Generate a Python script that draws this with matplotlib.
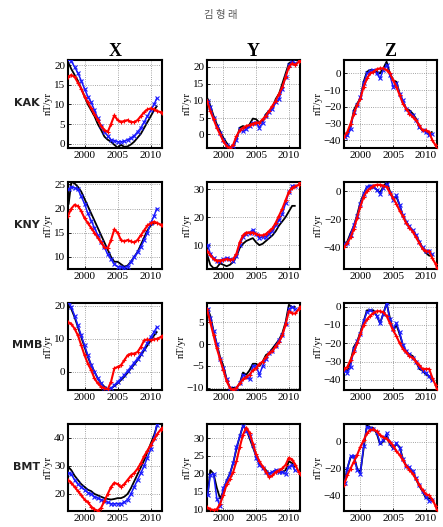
import numpy as np
import matplotlib
matplotlib.use("Agg")
import matplotlib.pyplot as plt

# time axes (decimal years)
years_obs = [1997.6] + list(np.arange(1998.0, 2010.51, 0.5)) + [2010.9]
years_mod = list(np.arange(1997.5, 2011.51, 0.5)) + [2011.7]

stations = ["KAK", "KNY", "MMB", "BMT"]
components = ["X", "Y", "Z"]

# KAK
kak_x_black = [20.5, 19, 17.5, 16, 14, 12, 10, 8.5, 7, 5, 3.5, 1.8, 1, 0.5, -0.3, -1, -0.3, -0.8, -0.7, -0.2, 0.5, 1.5, 2.5, 4, 5.5, 7, 8.5, 9.5]
kak_x_blue = [21.5, 21, 19.5, 18, 16, 14, 12, 10.5, 8.5, 6.5, 4.5, 3, 2, 1, 0.8, 0.5, 0.5, 0.6, 1, 1.5, 2, 3, 4, 5.5, 7, 8.5, 10, 11.5]
kak_x_red = [17, 17.5, 17, 15.5, 14, 12, 10.5, 9, 7.5, 6, 4.5, 3.5, 3, 5, 7.2, 6, 5.5, 5.8, 6, 5.5, 5.5, 6, 7, 8, 8.7, 9, 8.7, 8.3, 8, 7.8]
kak_y_black = [10.5, 8.5, 5.5, 3, 1, -1, -2.5, -3.8, -3.5, -1.5, 2, 2.5, 2, 3, 4.7, 4.5, 3.5, 4, 6, 7, 8, 10.5, 12, 15, 18, 21, 21.5, 21]
kak_y_blue = [10, 8, 5, 2.5, 0.5, -1.5, -3, -4, -3.5, -1.5, 1.5, 1, 1.5, 2.5, 3.5, 3.5, 2, 3.5, 5.5, 6.5, 7.5, 9.5, 10.5, 13.5, 17, 20.5, 21.5, 21]
kak_y_red = [10, 7, 4.5, 2, 0, -2, -3.5, -4, -3, -0.5, 1.2, 2, 2.5, 2.8, 3.2, 3.5, 3.5, 4.5, 5.5, 7, 8.5, 10, 12, 14, 17, 20, 21, 20.5, 21.5, 22]
kak_z_black = [-37, -37, -32, -22, -18, -15, -5, 1, 2, 2, 1, 0, 3, 7, 0, -4, -5, -12, -17, -21, -22, -24, -27, -32, -34, -34, -36, -35]
kak_z_blue = [-38, -37, -33, -23, -19, -14, -6, 0, 1.5, 2, 0, -3, 2, 5, -1, -8, -6, -12, -16, -21, -23, -25, -28, -32, -34, -35, -37, -36]
kak_z_red = [-38, -35, -30, -24, -19, -15, -8, -3, 0, 1, 2.5, 3, 3, 2, 0, -4, -8, -13, -18, -21, -24, -26, -28, -31, -34, -34, -35, -40, -43, -45]

# KNY
kny_x_black = [21, 25.5, 25.2, 24.5, 23.5, 22, 20.5, 19, 17.5, 16, 14.5, 13, 11.5, 10, 9, 9, 8.5, 8, 8.2, 9, 10, 11, 12.5, 14, 15.5, 16.5, 17, 17]
kny_x_blue = [24, 24.5, 24.3, 24, 22.5, 21, 19, 17.5, 16, 14.5, 13, 12, 10.5, 9.5, 8.5, 8, 8, 7.8, 8, 9, 10, 11, 12, 13.5, 15, 17, 18.5, 20]
kny_x_red = [18.5, 20, 20.8, 20.5, 19.5, 18, 17, 16, 15, 14, 13, 12, 11.8, 13.5, 15.7, 15, 13.5, 13.2, 13.5, 13.2, 13, 13.5, 14.5, 15.5, 16.5, 17, 17.3, 17, 16.7, 16.5]
kny_y_black = [6, 3, 1.8, 2, 3.5, 3, 2.5, 3, 4, 6, 9, 10.5, 11.5, 12, 12.5, 11, 10, 10.5, 11.5, 12.5, 13.5, 15, 17, 18.5, 20, 22, 24, 24]
kny_y_blue = [10, 7, 5.5, 4.5, 4.5, 5, 5.5, 5, 4.5, 6, 10, 13, 14, 14.5, 15.5, 14, 12.5, 13, 13, 14, 15, 17, 19, 21, 25, 29, 31, 31]
kny_y_red = [8, 6.5, 5, 4.5, 4.5, 4.8, 5, 4.8, 5, 7, 11, 13.5, 14.5, 14.5, 14.5, 14, 13.5, 13.5, 14, 15, 16, 18, 20.5, 23, 26, 29, 30.5, 31, 31.5, 32.5]
kny_z_black = [-38, -36, -30, -25, -17, -8, -2, 3, 4, 3, 1, -1, 3, 6.5, 0, -5, -4, -10, -18, -22, -26, -28, -32, -36, -41, -44, -46, -46]
kny_z_blue = [-38, -37, -31, -24, -18, -9, -2, 3, 4, 3, 1, -2, 2, 5, -1, -6, -3, -10, -17, -22, -25, -28, -31, -36, -40, -43, -43, -45]
kny_z_red = [-40, -37, -33, -27, -19, -11, -4, 0, 2, 4, 4.5, 4.5, 4, 3, -1, -5, -9, -14, -18, -23, -26, -29, -33, -37, -41, -43, -43, -48, -52, -55]

# MMB
mmb_x_black = [20, 19, 16.5, 13.5, 10.5, 7.5, 4.5, 2, 0, -2, -3.5, -4.5, -5.3, -5, -4.3, -3.5, -2.5, -1.5, -0.3, 1, 2.2, 3.5, 5, 6.5, 8, 9.5, 11, 12]
mmb_x_blue = [21, 19.5, 17, 14, 11, 8, 5, 2, 0, -2, -3.5, -5, -5.5, -5, -4, -3, -2, -1, 0.3, 1.5, 2.8, 4, 5.5, 7, 8.8, 10.5, 12, 13.5]
mmb_x_red = [15, 14.5, 13, 11, 8, 5, 2.5, 0.5, -2, -3.5, -4.5, -5, -5.3, -3, 1, 1.5, 2, 3.5, 5, 5.5, 5.5, 6, 7.5, 9.5, 9.8, 9.5, 9.8, 10, 10.5, 10.8]
mmb_y_black = [8, 6.5, 3, 0, -3, -5, -8, -10, -10, -10, -9, -6.5, -7, -6, -4.5, -4.5, -5, -4, -2.5, -2, -1, 0, 1, 2.5, 5, 9, 8.5, 8.5]
mmb_y_blue = [8, 6, 3, 0, -3.5, -5.5, -8, -10, -10.5, -10, -9, -7, -7.5, -8, -5, -5, -7, -5, -3.5, -2, -1.5, -0.5, 1, 2, 4.5, 8, 8.5, 8]
mmb_y_red = [8, 5, 2, -1, -3.5, -6, -8.5, -10, -10.5, -10, -9, -8, -7.5, -7, -6, -5.5, -4.5, -4, -3, -2, -1.5, -0.5, 0.5, 2, 4.5, 7.5, 7, 7, 8, 8.5]
mmb_z_black = [-34, -35, -30, -22, -19, -14, -8, -2, -2, -2, -5, -9, -4, 2, -6, -13, -10, -15, -21, -25, -26, -27, -30, -34, -35, -37, -38, -40]
mmb_z_blue = [-35, -36, -33, -23, -19, -15, -8, -3, -2, -3, -5, -9, -4, 2, -7, -12, -9, -14, -21, -24, -26, -28, -30, -33, -35, -36, -38, -40]
mmb_z_red = [-34, -33, -29, -25, -20, -15, -10, -7, -5, -3.5, -2.5, -2.5, -3, -5, -9, -13, -16, -20, -23, -25, -27, -28, -30, -32, -34, -34, -34, -39, -43, -45]

# BMT
bmt_x_black = [29.5, 28.5, 26.5, 25, 23.5, 22.5, 21.5, 21, 20, 19.5, 19, 18.5, 18.2, 18, 18.2, 18.5, 18.5, 19, 20, 22, 24.5, 27, 29.5, 32, 35, 38, 41, 44]
bmt_x_blue = [27.5, 27, 25, 23.5, 22.5, 21.5, 20.5, 20, 19, 18.5, 18, 17.5, 17, 16.5, 16.5, 16.5, 16.5, 17, 18, 20, 22.5, 25, 27.5, 30, 33, 36, 40, 44.5]
bmt_x_red = [25, 24, 22.5, 21, 19.5, 18, 17, 15.5, 14.5, 14, 15, 17.5, 20, 22.5, 24, 23.5, 22.5, 23.5, 25, 26.5, 27.5, 29, 31, 33.5, 35.5, 37.5, 39.5, 41.5, 43, 43.5]
bmt_y_black = [14, 21, 20, 16, 13, 15, 18, 20, 23, 27, 30.5, 33.5, 32.5, 30, 27.5, 25, 23, 22, 21, 20, 20.5, 21, 20.5, 20.5, 21, 23.5, 23, 22]
bmt_y_blue = [14, 19.5, 20, 13, 11, 16, 18, 20, 23, 27.5, 30.5, 33.5, 32, 30.5, 28, 24.5, 22.5, 21.5, 20.5, 20, 20.5, 21, 20.5, 20.5, 20, 22, 22.5, 21]
bmt_y_red = [10.5, 10, 9.8, 10, 11.5, 14, 17, 18.5, 20.5, 23.5, 27.5, 31, 33, 31.5, 28.5, 25.5, 23.5, 22, 20.5, 19, 19.5, 20.5, 21, 21.5, 22.5, 24.5, 24, 22.5, 20.5, 20]
bmt_z_black = [-30, -20, -12, -10.5, -20, -23, -5, 12, 10.5, 10, 6, -2, 0, 5, -2, -5, -2, -4, -13, -18, -20, -22, -28, -33, -37, -42, -42, -43]
bmt_z_blue = [-31, -20, -11, -10.5, -21, -24, -3, 11, 10, 9, 7, -1, 1, 6, -1, -5, -1, -5, -13, -18, -19, -22, -27, -32, -37, -41, -44, -43]
bmt_z_red = [-32, -25, -20, -15, -10, -4, 1, 6, 8.5, 9, 7.5, 5, 3, 2, 0, -3, -7, -10, -14, -18, -21, -24, -28, -32, -36, -39, -40, -43, -48, -51]

series = {
    ("KAK", "X"): (kak_x_black, kak_x_blue, kak_x_red),
    ("KAK", "Y"): (kak_y_black, kak_y_blue, kak_y_red),
    ("KAK", "Z"): (kak_z_black, kak_z_blue, kak_z_red),
    ("KNY", "X"): (kny_x_black, kny_x_blue, kny_x_red),
    ("KNY", "Y"): (kny_y_black, kny_y_blue, kny_y_red),
    ("KNY", "Z"): (kny_z_black, kny_z_blue, kny_z_red),
    ("MMB", "X"): (mmb_x_black, mmb_x_blue, mmb_x_red),
    ("MMB", "Y"): (mmb_y_black, mmb_y_blue, mmb_y_red),
    ("MMB", "Z"): (mmb_z_black, mmb_z_blue, mmb_z_red),
    ("BMT", "X"): (bmt_x_black, bmt_x_blue, bmt_x_red),
    ("BMT", "Y"): (bmt_y_black, bmt_y_blue, bmt_y_red),
    ("BMT", "Z"): (bmt_z_black, bmt_z_blue, bmt_z_red),
}

# axis limits and ticks per panel
ylims = {
    ("KAK", "X"): ((-1.1, 21.3), [0, 5, 10, 15, 20]),
    ("KAK", "Y"): ((-4, 22), [0, 5, 10, 15, 20]),
    ("KAK", "Z"): ((-44.5, 8), [-40, -30, -20, -10, 0]),
    ("KNY", "X"): ((7.5, 25.5), [10, 15, 20, 25]),
    ("KNY", "Y"): ((1.5, 32.5), [10, 20, 30]),
    ("KNY", "Z"): ((-55.5, 6.5), [-40, -20, 0]),
    ("MMB", "X"): ((-5.5, 20.8), [0, 10, 20]),
    ("MMB", "Y"): ((-10.5, 9.4), [-10, -5, 0, 5]),
    ("MMB", "Z"): ((-45.5, 2), [-40, -30, -20, -10, 0]),
    ("BMT", "X"): ((13.9, 45), [20, 30, 40]),
    ("BMT", "Y"): ((9.5, 34), [10, 15, 20, 25, 30]),
    ("BMT", "Z"): ((-51.5, 13), [-40, -20, 0]),
}

W, H = 443, 527
fig = plt.figure(figsize=(W / 100, H / 100), dpi=100)

col_px = [(68, 162), (207, 300), (344, 437)]
row_px = [(60, 148), (182, 269), (303, 390), (424, 511)]
serif = "Liberation Serif"

fig.text(221 / W, 1 - 15 / H, "김 형 래", ha="center", va="center", fontsize=7.5,
         color="#555555", family=["Noto Sans CJK KR", "DejaVu Sans"])

for j, comp in enumerate(components):
    cx = (col_px[j][0] + col_px[j][1]) / 2
    fig.text(cx / W, 1 - 51 / H, comp, ha="center", va="center", fontsize=13,
             fontweight="bold", family=serif)

for i, st in enumerate(stations):
    top, bot = row_px[i]
    fig.text(27 / W, 1 - ((top + bot) / 2 - 1) / H, st, ha="center", va="center",
             fontsize=8, fontweight="bold", color="#222222", family="DejaVu Sans")
    for j, comp in enumerate(components):
        l, r = col_px[j]
        ax = fig.add_axes([l / W, 1 - bot / H, (r - l) / W, (bot - top) / H])
        black, blue, red = series[(st, comp)]
        ax.plot(years_obs, black, color="black", lw=1.3, zorder=3)
        ax.plot(years_obs, blue, color="#1a1aff", lw=1.1, marker="x", ms=2.5, mew=0.8, zorder=4)
        ax.plot(years_mod, red, color="red", lw=1.5, marker="+", ms=3.5, mew=0.8, zorder=5)
        (lo, hi), yt = ylims[(st, comp)]
        ax.set_xlim(1997.5, 2011.7)
        ax.set_ylim(lo, hi)
        ax.set_xticks([2000, 2005, 2010])
        ax.set_yticks(yt)
        ax.grid(True, ls=":", lw=0.6, color="#888888")
        ax.tick_params(direction="in", length=2, width=0.6, labelsize=8, pad=2)
        for lab in ax.get_xticklabels() + ax.get_yticklabels():
            lab.set_family(serif)
        ax.set_ylabel("nT/yr", fontsize=7.5, family=serif, labelpad=1)
        for sp in ax.spines.values():
            sp.set_linewidth(1.5)

fig.savefig("out.png", dpi=100)
